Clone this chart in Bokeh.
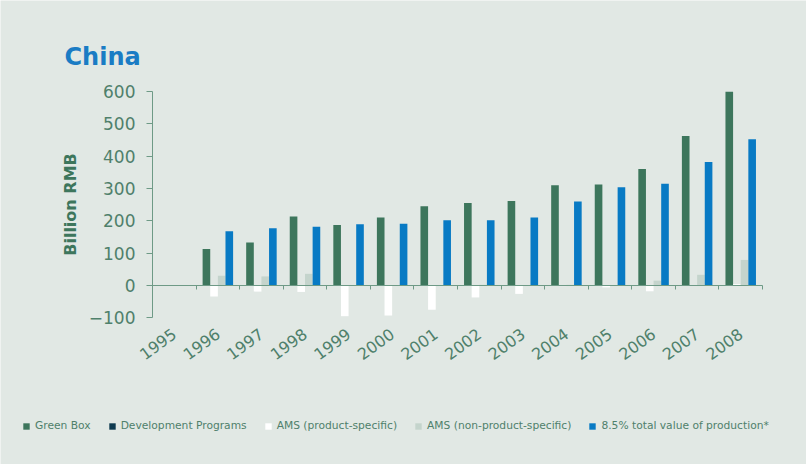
import numpy as np
from bokeh.plotting import figure
from bokeh.models import (ColumnDataSource, Range1d, LinearAxis, FixedTicker,
                          Legend, LegendItem, Label)
from bokeh.transform import dodge
from bokeh.embed import file_html
from bokeh.resources import INLINE

# ---- data (billion RMB) ----
years = ["1995", "1996", "1997", "1998", "1999", "2000", "2001",
         "2002", "2003", "2004", "2005", "2006", "2007", "2008"]
green_box = [0, 113, 133, 213, 187, 210, 245, 255, 261, 310, 312, 360, 462, 599]
dev_programs = [0, 0, 0, 0, 0, 0, 0, 0, 0, 0, 0, 0, 0, 0]
ams_product = [0, -34, -19, -20, -95, -93, -75, -37, -26, -2, -6, -18, 0, 4]
ams_non_product = [0, 30, 28, 36, 0, 0, 0, 2, 1, 2, 1, 15, 33, 79]
value_85 = [0, 168, 177, 182, 189, 191, 202, 202, 210, 260, 304, 315, 382, 452]
y_ticks = [-100, 0, 100, 200, 300, 400, 500, 600]
series_labels = ["Green Box", "Development Programs", "AMS (product-specific)",
                 "AMS (non-product-specific)", "8.5% total value of production*"]

# ---- layout (pixels) ----
W, H = 806, 464
PLOT_LEFT, PLOT_RIGHT, PLOT_TOP, PLOT_BOTTOM = 152, 762, 91, 317.3
Y_MIN, Y_MAX = -100, 600

BG = "#e1e8e4"
AXIS_GREEN = "#6e9a86"
TEXT_GREEN = "#4f806b"
COLORS = ["#3d765c", "#0e3a4f", "#ffffff", "#c4d4cc", "#087ac4"]

n = len(years)
centers = (np.arange(n) + 0.5).tolist()
boundaries = list(range(1, n + 1))

# the frame fills the whole canvas; the chart area is mapped to the pixel box above
px_per_x = (PLOT_RIGHT - PLOT_LEFT) / n
px_per_y = (PLOT_BOTTOM - PLOT_TOP) / (Y_MAX - Y_MIN)
x_range = Range1d(-PLOT_LEFT / px_per_x, n + (W - PLOT_RIGHT) / px_per_x)
y_range = Range1d(Y_MIN - (H - PLOT_BOTTOM) / px_per_y, Y_MAX + PLOT_TOP / px_per_y)

src = ColumnDataSource(dict(xc=centers, green=green_box, dev=dev_programs,
                            ams_ps=ams_product, ams_nps=ams_non_product, blue=value_85))

p = figure(width=W, height=H, x_range=x_range, y_range=y_range,
           x_axis_type=None, y_axis_type=None,
           output_backend="svg", toolbar_location=None,
           min_border_left=0, min_border_right=0, min_border_top=0, min_border_bottom=0,
           background_fill_color=BG, border_fill_color=BG, outline_line_color=None)
p.xgrid.visible = False
p.ygrid.visible = False

bw = 0.175
cols = ["green", "dev", "ams_ps", "ams_nps", "blue"]
offsets = [-0.2625, -0.2625, -0.0875, 0.0875, 0.2625]
renderers = []
for col, off, color in zip(cols, offsets, COLORS):
    r = p.vbar(x=dodge("xc", off), top=col, bottom=0, width=bw,
               source=src, fill_color=color, line_color=None)
    renderers.append(r)

# year labels under the chart area
xa = LinearAxis(fixed_location=Y_MIN, bounds=(0, n), ticker=FixedTicker(ticks=centers))
xa.major_label_overrides = {c: y for c, y in zip(centers, years)}
xa.axis_line_color = None
xa.major_tick_line_color = None
xa.minor_tick_line_color = None
xa.major_label_orientation = 0.63
xa.major_label_standoff = 8
xa.major_label_text_font = "DejaVu Sans"
xa.major_label_text_font_size = "16px"
xa.major_label_text_color = TEXT_GREEN
p.add_layout(xa, "below")

# zero line with ticks at category boundaries
zero_axis = LinearAxis(fixed_location=0, bounds=(0, n), ticker=FixedTicker(ticks=boundaries))
zero_axis.axis_line_color = AXIS_GREEN
zero_axis.major_tick_line_color = AXIS_GREEN
zero_axis.major_tick_in = 0
zero_axis.major_tick_out = 4
zero_axis.minor_tick_line_color = None
zero_axis.major_label_text_color = None
zero_axis.major_label_text_font_size = "0px"
p.add_layout(zero_axis, "below")

ya = LinearAxis(fixed_location=0, bounds=(Y_MIN, Y_MAX), ticker=FixedTicker(ticks=y_ticks))
ya.axis_line_color = AXIS_GREEN
ya.major_tick_line_color = AXIS_GREEN
ya.major_tick_in = 0
ya.major_tick_out = 6
ya.minor_tick_line_color = None
ya.major_label_standoff = 11
ya.major_label_text_font = "DejaVu Sans"
ya.major_label_text_font_size = "17px"
ya.major_label_text_color = TEXT_GREEN
ya.axis_label = "Billion RMB"
ya.axis_label_text_font = "DejaVu Sans"
ya.axis_label_text_font_style = "bold"
ya.axis_label_text_font_size = "16px"
ya.axis_label_text_color = "#3d765c"
ya.axis_label_standoff = 6
p.add_layout(ya, "left")

title = Label(x=64, y=H - 56, x_units="screen", y_units="screen", text="China",
              text_font="DejaVu Sans", text_font_style="bold", text_font_size="24px",
              text_color="#1a7cc4", text_baseline="alphabetic", text_align="left")
p.add_layout(title)

legend = Legend(items=[LegendItem(label=lab, renderers=[r]) for lab, r in zip(series_labels, renderers)],
                location=(22, 32), orientation="horizontal",
                glyph_width=8, glyph_height=8, label_standoff=5, spacing=17,
                padding=0, margin=0, label_height=12,
                background_fill_alpha=0, border_line_color=None,
                label_text_font="DejaVu Sans", label_text_font_size="10.7px",
                label_text_color=TEXT_GREEN)
p.add_layout(legend)

open("out.html", "w").write(file_html(p, INLINE))
